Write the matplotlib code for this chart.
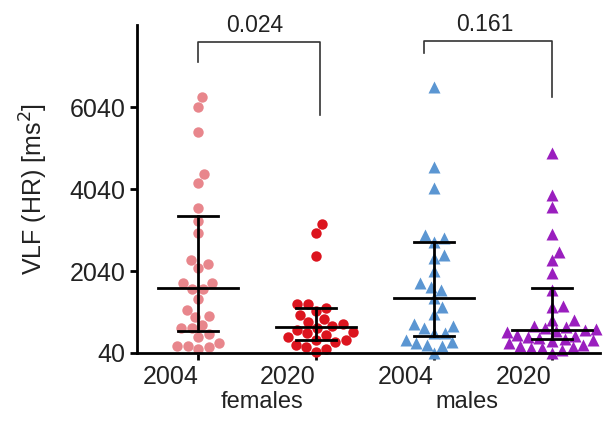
import numpy as np
import matplotlib
matplotlib.use("Agg")
import matplotlib.pyplot as plt

plt.rcParams['font.family'] = ['Liberation Sans', 'DejaVu Sans']

groups = ['2004', '2020', '2004', '2020']
sexes = ['females', 'males']

f2004 = [6290, 6040, 5430, 4410, 4190, 3580, 3260, 2970, 2310, 2210, 2110, 1750, 1750,
         1600, 1600, 1360, 1090, 940, 920, 720, 650, 650, 500, 430, 280, 210, 210, 190, 140]
f2020 = [3190, 2970, 2410, 1240, 1240, 1140, 1060, 970, 870, 800, 750, 700, 650, 600, 560,
         530, 480, 430, 360, 360, 310, 240, 190, 140, 60]
m2004 = [6530, 4580, 4070, 2920, 2850, 2750, 2430, 2360, 2040, 1750, 1650, 1580, 1380,
         1160, 990, 750, 700, 650, 530, 530, 360, 310, 280, 240, 210, 30]
m2020 = [4920, 3900, 3600, 2940, 2500, 2310, 1990, 1580, 1190, 1160, 850, 850, 700, 670,
         650, 620, 600, 580, 550, 480, 450, 430, 410, 380, 360, 330, 280, 240, 210, 190,
         170, 150, 120, 30]

medians = [1626, 674, 1382, 601]
upper = [3383, 1138, 2748, 1626]
lower = [577, 357, 455, 382]

p_values = ['0.024', '0.161']

colors = ['#E8868C', '#DC141E', '#5B96D2', '#9A1EBE']
markers = ['o', 'o', '^', '^']

fig = plt.figure(figsize=(6.03, 4.24), dpi=100)
ax = fig.add_axes([0.227, 0.1675, 0.768, 0.773])
ax.set_xlim(-0.52, 3.41)
ax.set_ylim(40, 8040)


def swarm(vals, d):
    # simple beeswarm in pixel space
    ys = ax.transData.transform(np.column_stack([np.zeros(len(vals)), vals]))[:, 1]
    ppu = ax.transData.transform([1, 0])[0] - ax.transData.transform([0, 0])[0]
    order = np.argsort(ys)
    placed = []
    offs = np.zeros(len(vals))
    for i in order:
        y = ys[i]
        near = [(px, py) for px, py in placed if abs(py - y) < d]
        cands = [0.0]
        for px, py in near:
            dx = np.sqrt(d ** 2 - (py - y) ** 2)
            cands += [px + dx, px - dx]
        cands.sort(key=abs)
        for c in cands:
            if all((c - px) ** 2 + (y - py) ** 2 >= d ** 2 - 1e-6 for px, py in near):
                offs[i] = c
                placed.append((c, y))
                break
    return offs / ppu


data = [f2004, f2020, m2004, m2020]
for i, vals in enumerate(data):
    xo = swarm(vals, 11)
    ax.plot(i + xo, vals, linestyle='none', marker=markers[i], ms=7.5 if markers[i] == 'o' else 8,
            color=colors[i], mec='none', clip_on=False, zorder=2)
    ax.plot([i - 0.34, i + 0.34], [medians[i]] * 2, color='black', lw=2, zorder=3)
    ax.plot([i, i], [lower[i], upper[i]], color='black', lw=2, zorder=3)
    for v in (lower[i], upper[i]):
        ax.plot([i - 0.17, i + 0.17], [v, v], color='black', lw=2, zorder=3)

# significance brackets
ax.plot([0, 0, 1.03, 1.03], [7140, 7630, 7630, 5850], color='#333333', lw=1.2, clip_on=False)
ax.text(0.48, 8030, p_values[0], ha='center', va='center', fontsize=16.5, color='#222222')
ax.plot([1.92, 1.92, 3.0, 3.0], [7360, 7650, 7650, 6290], color='#333333', lw=1.2, clip_on=False)
ax.text(2.43, 8050, p_values[1], ha='center', va='center', fontsize=16.5, color='#222222')

ax.set_yticks([40, 2040, 4040, 6040])
ax.set_yticklabels(['40', '2040', '4040', '6040'], fontsize=18, color='#222222')
ax.set_xticks(range(4))
ax.set_xticklabels(groups, fontsize=18, color='#222222', ha='right')
ax.tick_params(axis='x', pad=4)
ax.tick_params(axis='y', pad=3)
ax.tick_params(width=2, length=5, color='black')
ax.set_ylabel('VLF (HR) [ms$^2$]', fontsize=18, color='#222222', labelpad=14)

ax.text(0.54, -0.115, sexes[0], transform=ax.get_xaxis_transform(), ha='center', va='top',
        fontsize=17, color='#222222')
ax.text(2.28, -0.115, sexes[1], transform=ax.get_xaxis_transform(), ha='center', va='top',
        fontsize=17, color='#222222')

for s in ['top', 'right']:
    ax.spines[s].set_visible(False)
for s in ['left', 'bottom']:
    ax.spines[s].set_linewidth(2)

fig.savefig('out.png', dpi=100)
